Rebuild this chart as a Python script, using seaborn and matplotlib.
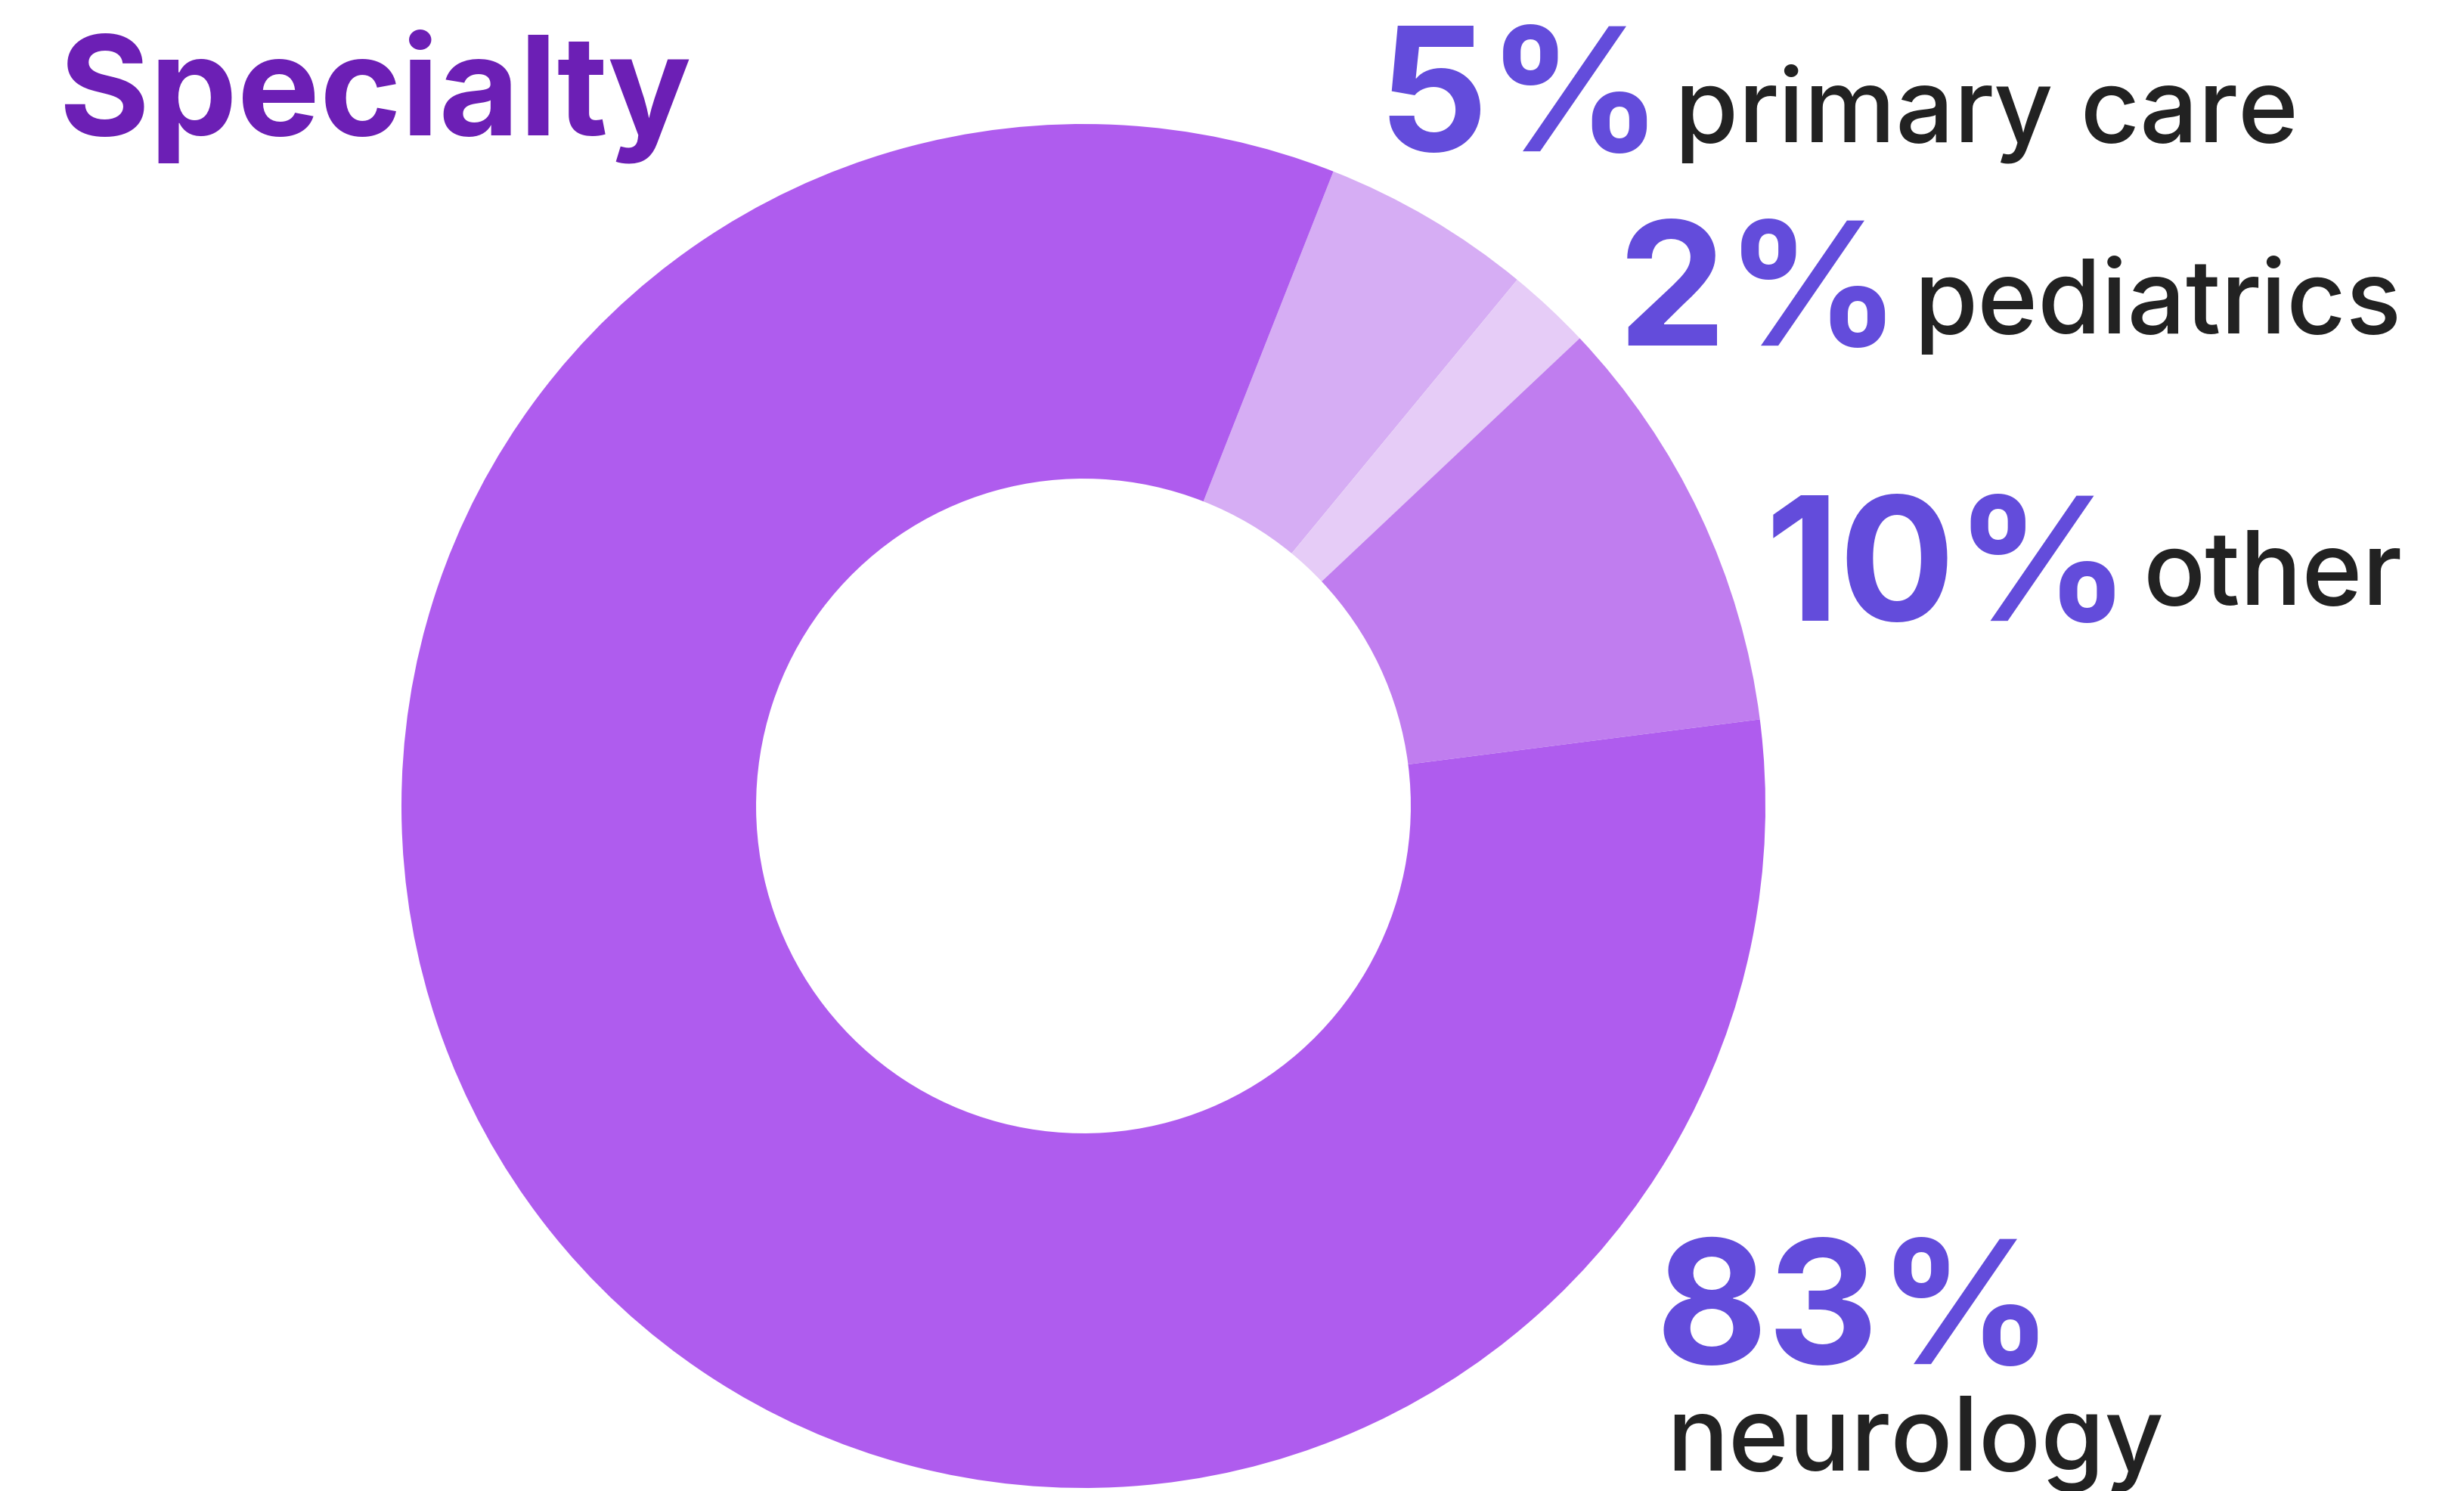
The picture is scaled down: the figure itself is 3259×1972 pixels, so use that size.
import pandas as pd
import matplotlib.pyplot as plt
import seaborn as sns

# data
specialties = ['primary care', 'pediatrics', 'other', 'neurology']
shares = [5, 2, 10, 83]
slice_colors = ['#D6ADF4', '#E6CCF7', '#C07DEF', '#AF5CEE']

df = pd.DataFrame({'specialty': specialties, 'share': shares})

sns.set_theme(style='white')
plt.rcParams['font.family'] = ['Inter', 'DejaVu Sans']

W, H = 3259, 1972
fig = plt.figure(figsize=(W / 100, H / 100), dpi=100)

# donut position in pixels
cx, cy, r_out = 1433, 1066, 902
ax = fig.add_axes([(cx - r_out) / W, (H - cy - r_out) / H, 2 * r_out / W, 2 * r_out / H])
ax.pie(df['share'], colors=slice_colors, startangle=68.5, counterclock=False,
       radius=1, wedgeprops=dict(width=0.52, linewidth=0))
ax.set_xlim(-1, 1)
ax.set_ylim(-1, 1)
ax.axis('off')


def px(x, y):
    return x / W, 1 - y / H


pct_color = '#634CDB'
lab_color = '#222222'

fig.text(*px(78, 179), 'Specialty', fontsize=132, fontweight='bold', color='#6C1FB5', va='baseline')

# percent positions (pixels, left / baseline), label baseline
pct_pos = {'primary care': (1822, 200), 'pediatrics': (2140, 457), 'other': (2335, 821), 'neurology': (2190, 1804)}
lab_base = {'primary care': 187, 'pediatrics': 441, 'other': 800}
gap = 16

fig.canvas.draw()
renderer = fig.canvas.get_renderer()

for _, row in df.iterrows():
    name = row['specialty']
    t = fig.text(*px(*pct_pos[name]), f"{row['share']}%", fontsize=164,
                 fontweight='bold', color=pct_color, va='baseline')
    if name == 'neurology':
        fig.text(*px(2204, 1945), name, fontsize=98, fontweight='medium',
                 color=lab_color, va='baseline')
    else:
        bb = t.get_window_extent(renderer)
        fig.text((bb.x1 + gap) / W, 1 - lab_base[name] / H, name, fontsize=98,
                 fontweight='medium', color=lab_color, va='baseline')

fig.savefig('out.png', dpi=100, facecolor='white')
